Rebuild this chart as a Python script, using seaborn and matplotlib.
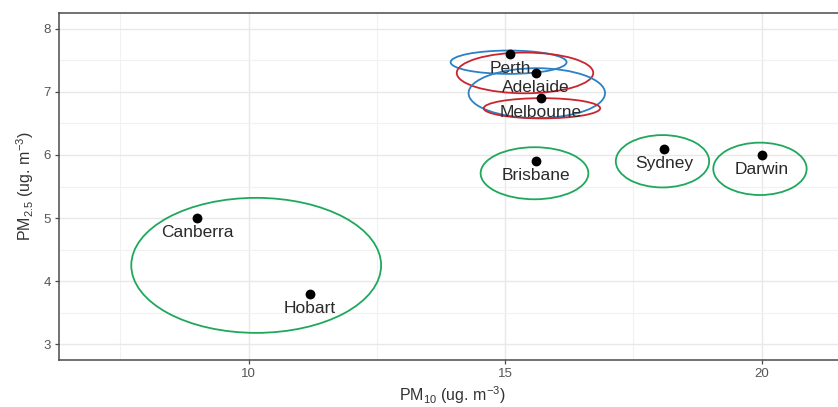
import matplotlib
matplotlib.use("Agg")
import matplotlib.pyplot as plt
from matplotlib.patches import Ellipse
from matplotlib.ticker import MultipleLocator
import seaborn as sns
import pandas as pd

# City annual means (ug/m3)
cities = ["Canberra", "Hobart", "Perth", "Adelaide", "Melbourne", "Brisbane", "Sydney", "Darwin"]
pm10 = [9.0, 11.2, 15.1, 15.6, 15.7, 15.6, 18.1, 20.0]
pm25 = [5.0, 3.8, 7.6, 7.3, 6.9, 5.9, 6.1, 6.0]

# Cluster ellipses: centre, full width/height (data units) and cluster group
ell_cx = [10.15, 15.575, 18.07, 19.97, 15.07, 15.39, 15.62, 15.72]
ell_cy = [4.25, 5.71, 5.90, 5.78, 7.47, 7.30, 6.98, 6.74]
ell_w = [4.87, 2.10, 1.82, 1.82, 2.26, 2.66, 2.66, 2.27]
ell_h = [2.14, 0.825, 0.83, 0.83, 0.37, 0.645, 0.79, 0.32]
ell_group = ["A", "A", "A", "A", "B", "C", "B", "C"]
group_colors = {"A": "#1fa85c", "B": "#2b80c6", "C": "#c9252f"}

df = pd.DataFrame({"city": cities, "pm10": pm10, "pm25": pm25})

sns.set_theme(style="white")
plt.rcParams["font.family"] = ["Liberation Sans", "DejaVu Sans"]
plt.rcParams["mathtext.fontset"] = "custom"
plt.rcParams["mathtext.rm"] = "Liberation Sans"
plt.rcParams["mathtext.it"] = "Liberation Sans"
plt.rcParams["mathtext.default"] = "regular"

W, H = 838, 407
fig = plt.figure(figsize=(W / 100, H / 100), dpi=100)
left, right, top, bottom = 59, 846, 13, 360
ax = fig.add_axes([left / W, 1 - bottom / H, (right - left) / W, (bottom - top) / H])

px_per_x = 51.3
x0 = 10 - (248.5 - left) / px_per_x
ax.set_xlim(x0, x0 + (right - left) / px_per_x)
ax.set_ylim(2.75, 8.25)

ax.xaxis.set_major_locator(MultipleLocator(5))
ax.xaxis.set_minor_locator(MultipleLocator(2.5))
ax.yaxis.set_major_locator(MultipleLocator(1))
ax.yaxis.set_minor_locator(MultipleLocator(0.5))
ax.grid(True, which="major", color="#e8e8e8", linewidth=1.0, zorder=0)
ax.grid(True, which="minor", color="#f1f1f1", linewidth=0.8, zorder=0)
ax.set_axisbelow(True)

for s in ax.spines.values():
    s.set_color("#4a4a4a")
    s.set_linewidth(1.1)

ax.tick_params(axis="both", which="major", length=3, width=0.9, color="#4a4a4a",
               labelsize=9.5, labelcolor="#555555", pad=3, bottom=True, left=True)
ax.tick_params(axis="both", which="minor", length=0)

for cx, cy, w, h, g in zip(ell_cx, ell_cy, ell_w, ell_h, ell_group):
    ax.add_patch(Ellipse((cx, cy), w, h, fill=False, edgecolor=group_colors[g],
                         linewidth=1.3, zorder=3))

sns.scatterplot(data=df, x="pm10", y="pm25", color="black", s=50, edgecolor="black",
                linewidth=0, ax=ax, zorder=4)

for c, x, y in zip(cities, pm10, pm25):
    ax.annotate(c, (x, y), xytext=(0, -10.5), textcoords="offset points",
                ha="center", va="center", fontsize=12.5, color="#2a2a2a", zorder=5)

ax.set_xlabel(r"PM$_{10}$ (ug. m$^{-3}$)", fontsize=11.5, color="#333333", labelpad=3)
ax.set_ylabel(r"PM$_{2.5}$ (ug. m$^{-3}$)", fontsize=11.5, color="#333333", labelpad=5)

fig.savefig("out.png", dpi=100)
